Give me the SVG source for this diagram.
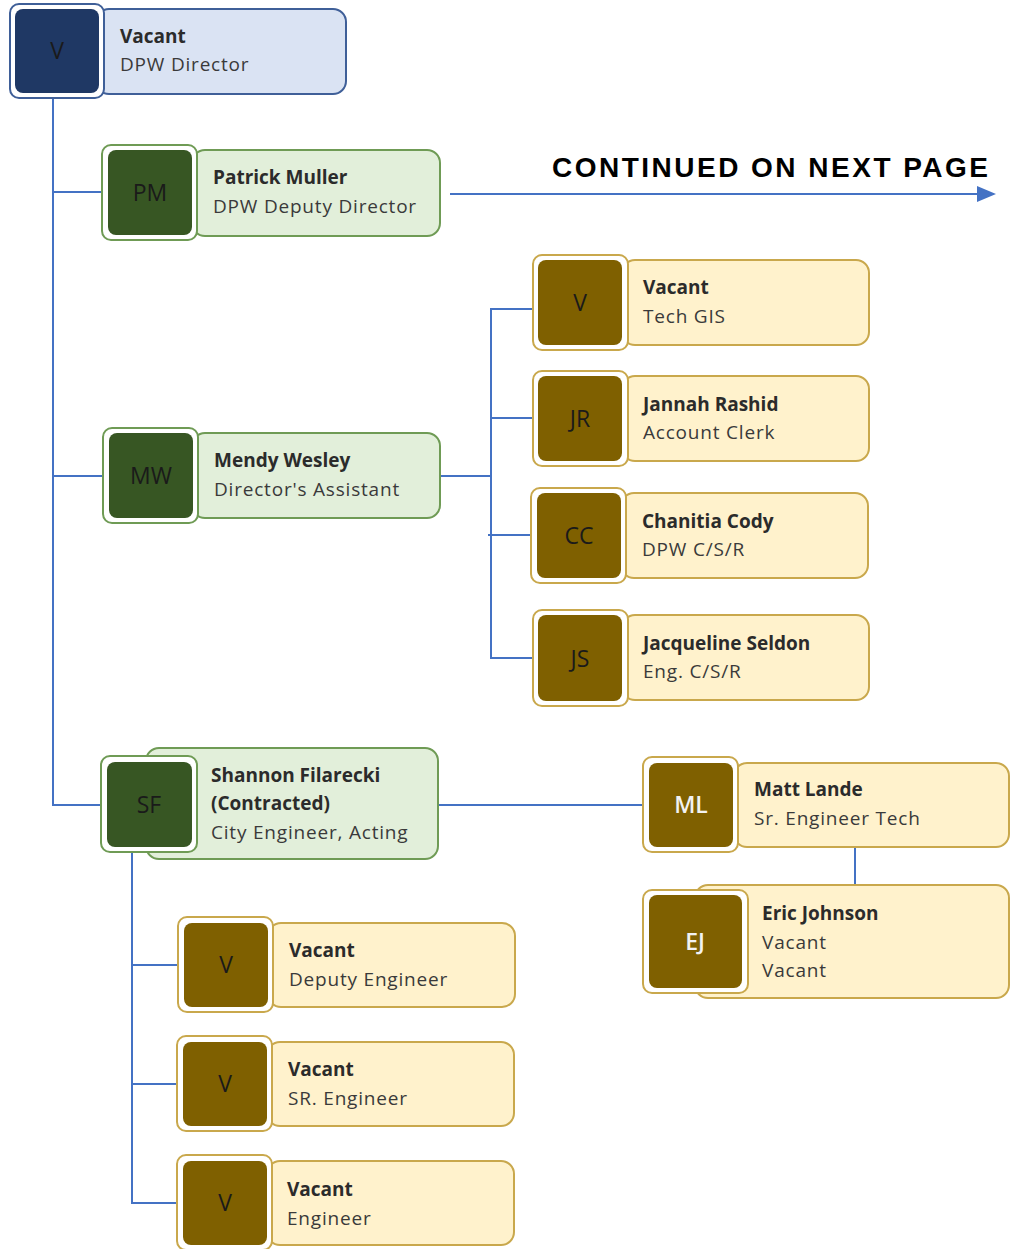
<svg xmlns="http://www.w3.org/2000/svg" width="1021" height="1249" viewBox="0 0 1021 1249">
<defs>
<style>
.bg{fill:#ffffff}
.conn line,.conn polyline{stroke:#4472c4;stroke-width:2;fill:none}
.frame-b{fill:#ffffff;stroke:#3f5f98;stroke-width:2}
.card-b{fill:#dae3f3;stroke:#3f5f98;stroke-width:2}
.badge-b{fill:#1f3864}
.frame-g{fill:#ffffff;stroke:#6f9b55;stroke-width:2}
.card-g{fill:#e2efda;stroke:#6f9b55;stroke-width:2}
.badge-g{fill:#375623}
.frame-y{fill:#ffffff;stroke:#c9a84c;stroke-width:2}
.card-y{fill:#fff2cc;stroke:#c9a84c;stroke-width:2}
.badge-y{fill:#7f6000}
.ini{font-family:"Open Sans","Noto Sans",sans-serif;font-size:23px;fill:#1a1a1a;text-anchor:middle}
.ini-w{font-family:"Open Sans","Noto Sans",sans-serif;font-size:23px;fill:#f2f2f2;text-anchor:middle;font-weight:600}
.nm{font-family:"Open Sans","Noto Sans",sans-serif;font-size:19px;font-weight:bold;fill:#2b2b2b}
.tt{font-family:"Open Sans","Noto Sans",sans-serif;font-size:19px;fill:#3a3a3a;letter-spacing:0.8px}
.cont{font-family:"Liberation Sans",Arial,sans-serif;font-size:28px;font-weight:bold;fill:#000000}
</style>
</defs>
<rect class="bg" x="0" y="0" width="1021" height="1249"/>

<g id="connectors" class="conn">
<polyline points="53,98 53,805 101,805"/>
<line x1="53" y1="192" x2="103" y2="192"/>
<line x1="53" y1="476" x2="104" y2="476"/>
<line x1="440" y1="476" x2="491" y2="476"/>
<polyline points="533,309 491,309 491,658 533,658"/>
<line x1="491" y1="418" x2="533" y2="418"/>
<line x1="488" y1="535" x2="532" y2="535"/>
<line x1="438" y1="805" x2="643" y2="805"/>
<line x1="855" y1="847" x2="855" y2="885"/>
<polyline points="132,852 132,1203 178,1203"/>
<line x1="132" y1="965" x2="178" y2="965"/>
<line x1="132" y1="1084" x2="177" y2="1084"/>
<line x1="450" y1="194" x2="977" y2="194"/>
<path d="M977,186 L996,194 L977,202 z" fill="#4472c4" stroke="none"/>
</g>

<text class="cont" x="988" y="177" text-anchor="end" textLength="436" lengthAdjust="spacing">CONTINUED ON NEXT PAGE</text>

<g id="node-director">
<rect class="card-b" x="96" y="9" width="250" height="85" rx="13"/>
<rect class="frame-b" x="10" y="4" width="94" height="94" rx="9"/>
<rect class="badge-b" x="15" y="9" width="84" height="84" rx="8"/>
<text class="ini" x="57" y="59">V</text>
<text class="nm" x="120" y="43">Vacant</text>
<text class="tt" x="120" y="71">DPW Director</text>
</g>

<g id="node-pm">
<rect class="card-g" x="192" y="150" width="248" height="86" rx="13"/>
<rect class="frame-g" x="102" y="145" width="95" height="95" rx="9"/>
<rect class="badge-g" x="108" y="150" width="84" height="85" rx="8"/>
<text class="ini" x="150" y="201">PM</text>
<text class="nm" x="213" y="184">Patrick Muller</text>
<text class="tt" x="213" y="213">DPW Deputy Director</text>
</g>

<g id="node-mw">
<rect class="card-g" x="192" y="433" width="248" height="85" rx="13"/>
<rect class="frame-g" x="103" y="428" width="95" height="95" rx="9"/>
<rect class="badge-g" x="109" y="433" width="84" height="85" rx="8"/>
<text class="ini" x="151" y="484">MW</text>
<text class="nm" x="214" y="467">Mendy Wesley</text>
<text class="tt" x="214" y="496">Director's Assistant</text>
</g>

<g id="node-sf">
<rect class="card-g" x="146" y="748" width="292" height="111" rx="13"/>
<rect class="frame-g" x="101" y="756" width="96" height="96" rx="9"/>
<rect class="badge-g" x="107" y="762" width="85" height="85" rx="8"/>
<text class="ini" x="149" y="813">SF</text>
<text class="nm" x="211" y="782">Shannon Filarecki</text>
<text class="nm" x="211" y="810">(Contracted)</text>
<text class="tt" x="211" y="839">City Engineer, Acting</text>
</g>

<g id="node-tech-gis">
<rect class="card-y" x="622" y="260" width="247" height="85" rx="13"/>
<rect class="frame-y" x="533" y="255" width="95" height="95" rx="9"/>
<rect class="badge-y" x="538" y="260" width="84" height="85" rx="8"/>
<text class="ini" x="580" y="311">V</text>
<text class="nm" x="643" y="294">Vacant</text>
<text class="tt" x="643" y="323">Tech GIS</text>
</g>

<g id="node-jr">
<rect class="card-y" x="622" y="376" width="247" height="85" rx="13"/>
<rect class="frame-y" x="533" y="371" width="95" height="95" rx="9"/>
<rect class="badge-y" x="538" y="376" width="84" height="85" rx="8"/>
<text class="ini" x="580" y="427">JR</text>
<text class="nm" x="643" y="411">Jannah Rashid</text>
<text class="tt" x="643" y="439">Account Clerk</text>
</g>

<g id="node-cc">
<rect class="card-y" x="621" y="493" width="247" height="85" rx="13"/>
<rect class="frame-y" x="531" y="488" width="95" height="95" rx="9"/>
<rect class="badge-y" x="537" y="493" width="84" height="85" rx="8"/>
<text class="ini" x="579" y="544">CC</text>
<text class="nm" x="642" y="528">Chanitia Cody</text>
<text class="tt" x="642" y="556">DPW C/S/R</text>
</g>

<g id="node-js">
<rect class="card-y" x="622" y="615" width="247" height="85" rx="13"/>
<rect class="frame-y" x="533" y="610" width="95" height="96" rx="9"/>
<rect class="badge-y" x="538" y="615" width="84" height="86" rx="8"/>
<text class="ini" x="580" y="667">JS</text>
<text class="nm" x="643" y="650">Jacqueline Seldon</text>
<text class="tt" x="643" y="678">Eng. C/S/R</text>
</g>

<g id="node-ml">
<rect class="card-y" x="734" y="763" width="275" height="84" rx="13"/>
<rect class="frame-y" x="643" y="757" width="95" height="95" rx="9"/>
<rect class="badge-y" x="649" y="763" width="84" height="84" rx="8"/>
<text class="ini-w" x="691" y="813">ML</text>
<text class="nm" x="754" y="796">Matt Lande</text>
<text class="tt" x="754" y="825">Sr. Engineer Tech</text>
</g>

<g id="node-ej">
<rect class="card-y" x="695" y="885" width="314" height="113" rx="13"/>
<rect class="frame-y" x="643" y="890" width="105" height="103" rx="9"/>
<rect class="badge-y" x="649" y="895" width="93" height="93" rx="8"/>
<text class="ini-w" x="695" y="950">EJ</text>
<text class="nm" x="762" y="920">Eric Johnson</text>
<text class="tt" x="762" y="949">Vacant</text>
<text class="tt" x="762" y="977">Vacant</text>
</g>

<g id="node-deputy-engineer">
<rect class="card-y" x="268" y="923" width="247" height="84" rx="13"/>
<rect class="frame-y" x="178" y="917" width="95" height="95" rx="9"/>
<rect class="badge-y" x="184" y="923" width="84" height="84" rx="8"/>
<text class="ini" x="226" y="973">V</text>
<text class="nm" x="289" y="957">Vacant</text>
<text class="tt" x="289" y="986">Deputy Engineer</text>
</g>

<g id="node-sr-engineer">
<rect class="card-y" x="267" y="1042" width="247" height="84" rx="13"/>
<rect class="frame-y" x="177" y="1036" width="95" height="95" rx="9"/>
<rect class="badge-y" x="183" y="1042" width="84" height="84" rx="8"/>
<text class="ini" x="225" y="1092">V</text>
<text class="nm" x="288" y="1076">Vacant</text>
<text class="tt" x="288" y="1105">SR. Engineer</text>
</g>

<g id="node-engineer">
<rect class="card-y" x="267" y="1161" width="247" height="84" rx="13"/>
<rect class="frame-y" x="177" y="1155" width="95" height="95" rx="9"/>
<rect class="badge-y" x="183" y="1161" width="84" height="84" rx="8"/>
<text class="ini" x="225" y="1211">V</text>
<text class="nm" x="287" y="1196">Vacant</text>
<text class="tt" x="287" y="1225">Engineer</text>
</g>
</svg>
